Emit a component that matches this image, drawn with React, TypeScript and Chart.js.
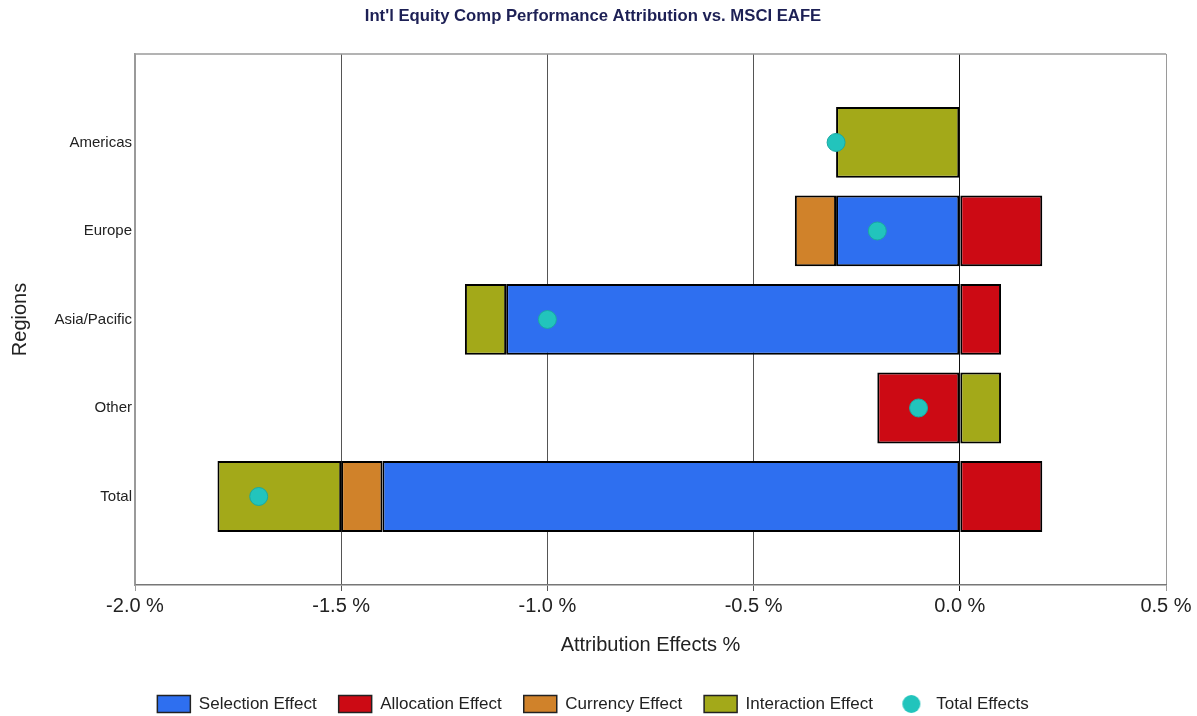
import React, { useEffect, useRef } from 'react';
import { Chart, registerables } from 'chart.js';

Chart.register(...registerables);

const categories = ['Americas', 'Europe', 'Asia/Pacific', 'Other', 'Total'];
const selectionEffect = [0, -0.3, -1.1, 0, -1.4];
const allocationEffect = [0, 0.2, 0.1, -0.2, 0.2];
const currencyEffect = [0, -0.1, 0, 0, -0.1];
const interactionEffect = [-0.3, 0, -0.1, 0.1, -0.3];
const totalEffects = [-0.3, -0.2, -1.0, -0.1, -1.7];
const seriesLabels = ['Selection Effect', 'Allocation Effect', 'Currency Effect', 'Interaction Effect', 'Total Effects'];
const xMin = -2.0;
const xMax = 0.5;
const xStep = 0.5;

const COLORS = ['#2e6ff0', '#cc0a14', '#d0822a', '#a3a919', '#22c4bc'];
const FONT = 'Arial, "Liberation Sans", Helvetica, sans-serif';

export default function App() {
  const ref = useRef<HTMLCanvasElement>(null);

  useEffect(() => {
    document.body.style.margin = '0';
    const canvas = ref.current;
    if (!canvas) return;

    const dot = document.createElement('canvas');
    dot.width = 20;
    dot.height = 20;
    const dctx = dot.getContext('2d')!;
    dctx.fillStyle = COLORS[4];
    dctx.beginPath();
    dctx.arc(10, 10, 9, 0, Math.PI * 2);
    dctx.fill();

    const labels = ['', ...categories, ''];
    const pad = (arr: number[]) => [null, ...arr.map((v) => (v === 0 ? null : v)), null];
    const barSets = [selectionEffect, allocationEffect, currencyEffect, interactionEffect].map((arr, i) => ({
      type: 'bar' as const,
      label: seriesLabels[i],
      data: pad(arr),
      backgroundColor: COLORS[i],
      borderColor: '#000',
      borderWidth: 2,
      borderSkipped: false,
      stack: 's',
      categoryPercentage: 0.8,
      barPercentage: 1.0,
      indexAxis: 'y' as const,
      order: 1,
    }));

    const frame = {
      id: 'frame',
      beforeDatasetsDraw(chart: any) {
        const { ctx, chartArea } = chart;
        ctx.save();
        ctx.strokeStyle = '#9a9a9a';
        ctx.lineWidth = 1.5;
        ctx.beginPath();
        ctx.moveTo(chartArea.left, chartArea.top);
        ctx.lineTo(chartArea.right, chartArea.top);
        ctx.stroke();
        ctx.restore();
      },
    };

    const chart = new Chart(canvas, {
      type: 'bar',
      data: {
        labels,
        datasets: [
          ...barSets,
          {
            type: 'scatter' as const,
            label: seriesLabels[4],
            data: categories.map((c, i) => ({ x: totalEffects[i], y: c })),
            backgroundColor: COLORS[4],
            borderColor: '#1aa9a2',
            borderWidth: 1,
            pointRadius: 9,
            pointHoverRadius: 9,
            indexAxis: 'y' as const,
            order: 0,
          } as any,
        ],
      },
      plugins: [frame],
      options: {
        responsive: false,
        animation: false,
        indexAxis: 'y',
        layout: { padding: { top: 0, left: 20, right: 31, bottom: -6.5 } },
        scales: {
          x: {
            type: 'linear',
            min: xMin,
            max: xMax,
            ticks: {
              stepSize: xStep,
              color: '#222',
              font: { family: FONT, size: 20 },
              padding: 3,
              maxRotation: 0,
              callback: (v: any) => `${Number(v).toFixed(1)} %`,
            },
            grid: {
              drawTicks: true,
              tickLength: 6,
              lineWidth: 1,
              color: (ctx: any) => {
                const v = ctx.tick ? ctx.tick.value : null;
                if (v === 0) return '#111';
                if (v === xMin || v === xMax) return '#9a9a9a';
                return '#555';
              },
            },
            border: { display: true, color: '#777', width: 1.5 },
            title: {
              display: true,
              text: 'Attribution Effects %',
              color: '#222',
              font: { family: FONT, size: 20 },
              padding: { top: 0, bottom: 16.5 },
            },
            afterFit: (scale: any) => {
              scale.height = 88.5;
              scale.paddingRight = 0;
              scale.paddingLeft = 0;
            },
          },
          y: {
            type: 'category',
            offset: false,
            ticks: {
              color: '#222',
              font: { family: FONT, size: 15 },
              padding: 3,
              autoSkip: false,
            },
            grid: { display: false, drawTicks: false },
            border: { display: true, color: '#9a9a9a', width: 1.5 },
            title: {
              display: true,
              text: 'Regions',
              color: '#222',
              font: { family: FONT, size: 20 },
              padding: { top: -12, bottom: 0 },
            },
            afterFit: (scale: any) => {
              scale.width = 115;
            },
          },
        },
        plugins: {
          title: {
            display: true,
            text: "Int'l Equity Comp Performance Attribution vs. MSCI EAFE",
            color: '#1d2055',
            font: { family: FONT, size: 16.7, weight: 'bold' },
            padding: { top: 6, bottom: 27.9 },
          },
          legend: {
            display: true,
            position: 'bottom',
            labels: {
              usePointStyle: true,
              pointStyleWidth: 33,
              boxHeight: 17,
              padding: 22,
              color: '#222',
              font: { family: FONT, size: 17 },
              generateLabels: (ch: any) =>
                ch.data.datasets.map((ds: any, i: number) => ({
                  text: ds.label,
                  fillStyle: ds.backgroundColor,
                  strokeStyle: '#222',
                  lineWidth: i < 4 ? 1.5 : 0,
                  pointStyle: i < 4 ? 'rect' : dot,
                  hidden: false,
                  datasetIndex: i,
                  fontColor: '#222',
                })),
            },
          },
          tooltip: { enabled: false },
        },
      } as any,
    });

    return () => chart.destroy();
  }, []);

  return (
    <div style={{ width: 1197, height: 716 }}>
      <canvas ref={ref} width={1197} height={716} style={{ display: 'block' }} />
    </div>
  );
}
